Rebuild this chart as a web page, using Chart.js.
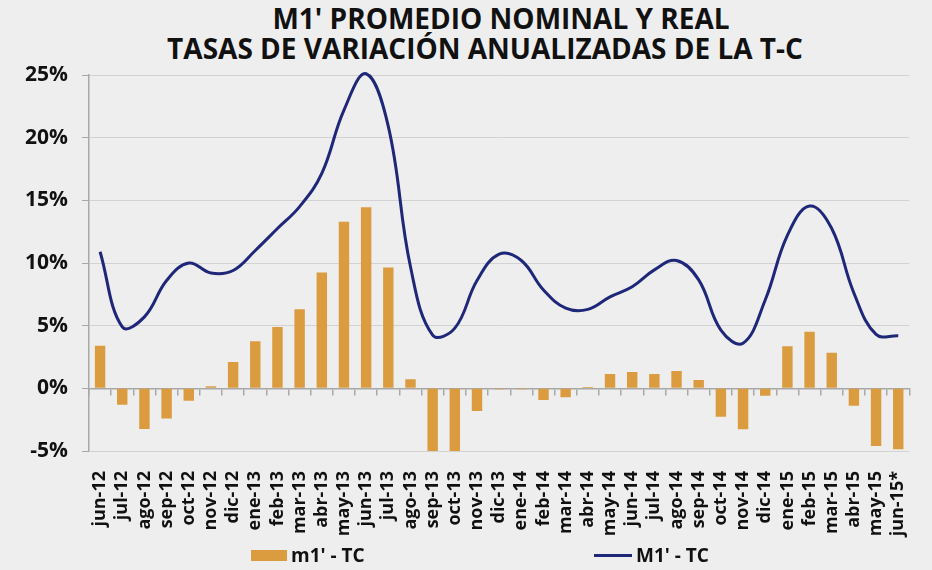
<!DOCTYPE html>
<html>
<head>
<meta charset="utf-8">
<script src="https://cdn.jsdelivr.net/npm/chart.js@4"></script>
<style>
  html, body { margin: 0; padding: 0; }
  body {
    width: 932px; height: 570px; overflow: hidden; position: relative;
    background: #eeeeee;
    font-family: "Open Sans", "Noto Sans", sans-serif;
  }
  .title-line {
    position: absolute; width: 932px; text-align: center;
    font-weight: 700; font-size: 28px; line-height: 25px; color: #111; white-space: nowrap;
  }
  #title1 { left: 35px; top: 6px; }
  #title2 { left: 19px; top: 36px; }
  #chart-wrap { position: absolute; left: 0; top: 0; width: 932px; height: 570px; }
  #legend { position: absolute; top: 542px; left: 0; width: 932px; height: 26px; }
  .leg-item { position: absolute; top: 0; display: flex; align-items: center;
    font-weight: 700; font-size: 19px; color: #111; }
  .leg-swatch { display: inline-block; margin-right: 4px; }
</style>
</head>
<body>
<div class="title-line" id="title1">M1' PROMEDIO NOMINAL Y REAL</div>
<div class="title-line" id="title2">TASAS DE VARIACIÓN ANUALIZADAS DE LA T-C</div>
<div id="chart-wrap"><canvas id="chart" width="932" height="570"></canvas></div>
<div id="legend"></div>
<script>
// --- DATA ---
const months = ['jun-12','jul-12','ago-12','sep-12','oct-12','nov-12','dic-12',
  'ene-13','feb-13','mar-13','abr-13','may-13','jun-13','jul-13','ago-13','sep-13','oct-13','nov-13','dic-13',
  'ene-14','feb-14','mar-14','abr-14','may-14','jun-14','jul-14','ago-14','sep-14','oct-14','nov-14','dic-14',
  'ene-15','feb-15','mar-15','abr-15','may-15','jun-15*'];

// m1' real (bars), %
const realRates = [3.4, -1.3, -3.25, -2.4, -1.0, 0.16, 2.1,
  3.75, 4.9, 6.3, 9.25, 13.3, 14.45, 9.65, 0.72, -5.1, -5.1, -1.8, -0.08,
  -0.08, -0.93, -0.72, 0.1, 1.14, 1.3, 1.14, 1.38, 0.66, -2.26, -3.27, -0.59,
  3.35, 4.52, 2.84, -1.39, -4.6, -4.87];

// M1' nominal (line), %
const nominalRates = [10.9, 4.9, 5.7, 8.6, 10.0, 9.2, 9.4,
  11.0, 12.75, 14.5, 17.15, 22.2, 25.1, 20.9, 9.7, 4.25, 4.8, 8.6, 10.7,
  10.2, 7.85, 6.4, 6.3, 7.3, 8.1, 9.45, 10.2, 8.65, 4.65, 3.6, 7.05,
  12.2, 14.55, 12.75, 7.6, 4.3, 4.2];

const yTicks = [-5, 0, 5, 10, 15, 20, 25];

const barColor = '#da9c3e';
const lineColor = '#1f2778';
const gridColor = '#d2d2d2';
const axisColor = '#a8a8a8';

// --- CHART ---
const ctx = document.getElementById('chart').getContext('2d');
new Chart(ctx, {
  type: 'bar',
  data: {
    labels: months,
    datasets: [
      {
        type: 'bar',
        label: "m1' - TC",
        data: realRates,
        backgroundColor: barColor,
        categoryPercentage: 1,
        barPercentage: 0.47,
        order: 2
      },
      {
        type: 'line',
        label: "M1' - TC",
        data: nominalRates,
        borderColor: lineColor,
        backgroundColor: lineColor,
        borderWidth: 3,
        pointRadius: 0,
        tension: 0.4,
        clip: false,
        order: 1
      }
    ]
  },
  options: {
    responsive: false,
    animation: false,
    layout: { padding: { top: 75, right: 11, bottom: 0, left: 0 } },
    plugins: {
      legend: { display: false },
      tooltip: { enabled: false }
    },
    scales: {
      x: {
        position: 'bottom',
        grid: { display: false },
        border: { display: false },
        ticks: {
          autoSkip: false,
          maxRotation: 90,
          minRotation: 90,
          padding: 12,
          color: '#111',
          font: { family: 'Open Sans', weight: '700', size: 18 }
        },
        afterFit: s => { s.height = 119; }
      },
      x0: {
        type: 'category',
        position: { y: 0 },
        offset: true,
        grid: { offset: true, drawOnChartArea: false, drawTicks: true, tickLength: 6, color: axisColor, lineWidth: 1.5 },
        border: { color: axisColor, width: 1.5 },
        ticks: { display: false }
      },
      y: {
        min: -5,
        max: 25,
        afterBuildTicks: s => { s.ticks = yTicks.map(v => ({ value: v })); },
        grid: { color: gridColor, tickColor: axisColor, tickLength: 7 },
        border: { color: axisColor, width: 1.5 },
        ticks: {
          padding: 14,
          color: '#111',
          font: { family: 'Open Sans', weight: '700', size: 21 },
          callback: v => v + '%'
        },
        afterFit: s => { s.width = 89; }
      }
    }
  }
});

// --- LEGEND (HTML) ---
const legendEl = document.getElementById('legend');
const legendItems = [
  { text: "m1' - TC", left: 251, swatch: `width:36px;height:11px;background:${barColor}` },
  { text: "M1' - TC", left: 594, swatch: `width:38px;height:3px;background:${lineColor}` }
];
legendItems.forEach(it => {
  const d = document.createElement('div');
  d.className = 'leg-item';
  d.style.left = it.left + 'px';
  d.innerHTML = `<span class="leg-swatch" style="${it.swatch}"></span>${it.text}`;
  legendEl.appendChild(d);
});
</script>
</body>
</html>
